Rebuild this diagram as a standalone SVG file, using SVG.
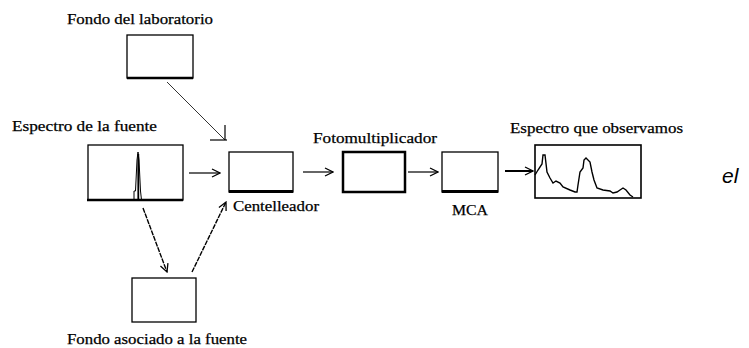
<svg xmlns="http://www.w3.org/2000/svg" width="749" height="348" viewBox="0 0 749 348">
<style>
.lbl{font-family:"Liberation Serif","DejaVu Serif","Times New Roman",serif;font-size:15px;fill:#000;stroke:#000;stroke-width:0.25}
.box{fill:#fff;stroke:#000;stroke-width:1.3}
.bot{stroke:#000;stroke-width:2.5}
.con{fill:none;stroke:#000;stroke-width:1.2}
.dot{fill:none;stroke:#000;stroke-width:1.4;stroke-dasharray:5 1}
</style>
<defs>
<marker id="ah" viewBox="0 0 10 10" refX="9" refY="5" markerWidth="10" markerHeight="10" markerUnits="userSpaceOnUse" orient="auto">
<path d="M1,1 L9,5 L1,9" fill="none" stroke="#000" stroke-width="1.3"/>
</marker>
</defs>
<rect width="749" height="348" fill="#fff"/>
<g id="lab">
<rect class="box" x="127" y="35" width="66" height="43"/>
<line class="bot" x1="127" y1="78" x2="193" y2="78"/>
<text class="lbl" x="67" y="24" textLength="146" lengthAdjust="spacingAndGlyphs">Fondo del laboratorio</text>
</g>
<g id="fuente">
<rect class="box" x="88" y="145" width="95" height="55"/>
<line class="bot" x1="87" y1="200" x2="183" y2="200"/>
<path d="M134,200 L134,191 L135.5,191 L137,160 L138,152 L139,160 L140.5,191 L141.5,200" fill="none" stroke="#000" stroke-width="1"/>
<line x1="138.3" y1="154" x2="138.3" y2="200" stroke="#000" stroke-width="1.8"/>
<text class="lbl" x="12" y="131" textLength="145" lengthAdjust="spacingAndGlyphs">Espectro de la fuente</text>
</g>
<g id="centelleador">
<rect class="box" x="229" y="152" width="64" height="40"/>
<line x1="229" y1="191.5" x2="293" y2="191.5" stroke="#000" stroke-width="3"/>
<text class="lbl" x="233" y="211" textLength="86" lengthAdjust="spacingAndGlyphs">Centelleador</text>
</g>
<g id="fotomultiplicador">
<rect class="box" x="343" y="152" width="62" height="40" style="stroke-width:2.5"/>
<text class="lbl" x="313" y="143" textLength="124" lengthAdjust="spacingAndGlyphs">Fotomultiplicador</text>
</g>
<g id="mca">
<rect class="box" x="442" y="152" width="56" height="40"/>
<line x1="442" y1="191.5" x2="498" y2="191.5" stroke="#000" stroke-width="3"/>
<text class="lbl" x="452" y="215" textLength="36" lengthAdjust="spacingAndGlyphs">MCA</text>
</g>
<g id="observado">
<rect class="box" x="535" y="145" width="106" height="53" style="stroke-width:1.6"/>
<polyline fill="none" stroke="#000" stroke-width="1.4" points="535,175 538,170 542,164 543,155 545,155 547,172 550,178 553,183 556,181 560,183 563,187 570,190 575,192 577,192 578,185 580,172 583,168 584,160 586,158 590,162 592,172 594,180 597,188 603,190 610,191 613,193 617,192 620,190 623,188 626,190 630,195 633,197"/>
<text class="lbl" x="510" y="133" textLength="173" lengthAdjust="spacingAndGlyphs">Espectro que observamos</text>
</g>
<g id="asociado">
<rect class="box" x="132" y="278" width="64" height="44"/>
<text class="lbl" x="67" y="344" textLength="180" lengthAdjust="spacingAndGlyphs">Fondo asociado a la fuente</text>
</g>
<g id="connectors">
<line x1="167" y1="82" x2="225" y2="140" stroke="#333" stroke-width="1"/>
<polyline class="con" points="210,140 227,140"/>
<polyline class="con" points="225,125 225,140"/>
<line class="con" x1="189" y1="173" x2="220" y2="173" marker-end="url(#ah)"/>
<line class="con" x1="303" y1="172" x2="333" y2="172" marker-end="url(#ah)"/>
<line class="con" x1="408" y1="172" x2="438" y2="172" marker-end="url(#ah)"/>
<line x1="505" y1="171" x2="533" y2="171" stroke="#000" stroke-width="2" marker-end="url(#ah)"/>
<line class="dot" x1="143" y1="208" x2="167" y2="272" marker-end="url(#ah)"/>
<line class="dot" x1="192" y1="272" x2="226" y2="202" marker-end="url(#ah)"/>
</g>
<text x="722" y="183" font-family="Liberation Sans, Arial, sans-serif" font-size="21" font-style="italic" fill="#000">el</text>
</svg>
